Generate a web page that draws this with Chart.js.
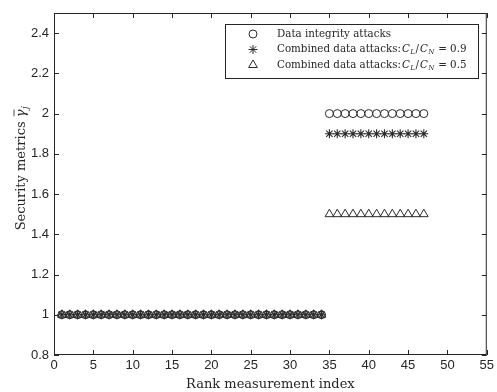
<!DOCTYPE html>
<html>
<head>
<meta charset="utf-8">
<script src="https://cdn.jsdelivr.net/npm/chart.js@4.4.1/dist/chart.umd.min.js"></script>
<style>
  html, body { margin: 0; padding: 0; background: #fff; }
  #wrap { width: 497px; height: 392px; position: relative; }
</style>
</head>
<body>
<div id="wrap"><canvas id="myChart" width="497" height="392"></canvas></div>
<script>
// Index des mesures (axe x)
const rankIndex = [1, 2, 3, 4, 5, 6, 7, 8, 9, 10, 11, 12, 13, 14, 15, 16, 17, 18, 19, 20,
  21, 22, 23, 24, 25, 26, 27, 28, 29, 30, 31, 32, 33, 34, 35, 36, 37, 38, 39, 40,
  41, 42, 43, 44, 45, 46, 47];

// Valeurs des trois séries
const integrityVals = [1, 1, 1, 1, 1, 1, 1, 1, 1, 1, 1, 1, 1, 1, 1, 1, 1, 1, 1, 1,
  1, 1, 1, 1, 1, 1, 1, 1, 1, 1, 1, 1, 1, 1, 2, 2, 2, 2, 2, 2,
  2, 2, 2, 2, 2, 2, 2];
const combined09Vals = [1, 1, 1, 1, 1, 1, 1, 1, 1, 1, 1, 1, 1, 1, 1, 1, 1, 1, 1, 1,
  1, 1, 1, 1, 1, 1, 1, 1, 1, 1, 1, 1, 1, 1, 1.9, 1.9, 1.9, 1.9, 1.9, 1.9,
  1.9, 1.9, 1.9, 1.9, 1.9, 1.9, 1.9];
const combined05Vals = [1, 1, 1, 1, 1, 1, 1, 1, 1, 1, 1, 1, 1, 1, 1, 1, 1, 1, 1, 1,
  1, 1, 1, 1, 1, 1, 1, 1, 1, 1, 1, 1, 1, 1, 1.5, 1.5, 1.5, 1.5, 1.5, 1.5,
  1.5, 1.5, 1.5, 1.5, 1.5, 1.5, 1.5];

// Graduations
const xTicks = [0, 5, 10, 15, 20, 25, 30, 35, 40, 45, 50, 55];
const yTicks = [0.8, 1, 1.2, 1.4, 1.6, 1.8, 2, 2.2, 2.4];

const seriesNames = ['Data integrity attacks', 'Combined data attacks:', 'Combined data attacks:'];
const ratioLabels = ['', '0.9', '0.5'];

const ink = '#262626';
const mark = '#2b2b2b';
const serif = '"DejaVu Serif", "Liberation Serif", serif';

function toPoints(vals) {
  return rankIndex.map((x, i) => ({ x: x, y: vals[i] }));
}

// Cadre + graduations vers l'intérieur (style MATLAB)
const boxPlugin = {
  id: 'boxPlugin',
  afterDraw(chart) {
    const c = chart.ctx, a = chart.chartArea;
    const xs = chart.scales.x, ys = chart.scales.y;
    c.save();
    c.strokeStyle = ink;
    c.lineWidth = 1;
    c.strokeRect(a.left + 0.5, a.top + 0.5, a.right - a.left - 1, a.bottom - a.top - 1);
    c.beginPath();
    xTicks.forEach(v => {
      const px = Math.round(xs.getPixelForValue(v)) + 0.5;
      c.moveTo(px, a.bottom); c.lineTo(px, a.bottom - 5);
      c.moveTo(px, a.top); c.lineTo(px, a.top + 5);
    });
    yTicks.forEach(v => {
      const py = Math.round(ys.getPixelForValue(v)) + 0.5;
      c.moveTo(a.left, py); c.lineTo(a.left + 5, py);
      c.moveTo(a.right, py); c.lineTo(a.right - 5, py);
    });
    c.stroke();

    // Titre axe y : Security metrics γ̄_j
    c.translate(22, 168);
    c.rotate(-Math.PI / 2);
    c.fillStyle = ink;
    c.textBaseline = 'middle';
    c.textAlign = 'left';
    const t1 = 'Security metrics ';
    c.font = '13px ' + serif;
    const w1 = c.measureText(t1).width;
    c.font = 'italic 13px ' + serif;
    const wg = c.measureText('γ').width;
    c.font = 'italic 9px ' + serif;
    const wj = c.measureText('j').width;
    const total = w1 + wg + wj + 1;
    let x0 = -total / 2;
    c.font = '13px ' + serif;
    c.fillText(t1, x0, 0);
    x0 += w1;
    c.font = 'italic 13px ' + serif;
    c.fillText('γ', x0, 0);
    c.beginPath();
    c.lineWidth = 0.8;
    c.moveTo(x0 + 1, -8); c.lineTo(x0 + wg, -8);
    c.stroke();
    c.font = 'italic 9px ' + serif;
    c.fillText('j', x0 + wg + 0.5, 4);
    c.restore();
  }
};

// Légende dessinée à l'intérieur de la zone de tracé
const legendPlugin = {
  id: 'boxLegend',
  afterDraw(chart) {
    const c = chart.ctx;
    const left = 225, top = 24, right = 478, bottom = 78;
    const rows = [34, 49.5, 65];
    const fs = 10.3;
    c.save();
    c.fillStyle = '#fff';
    c.fillRect(left, top, right - left, bottom - top);
    c.strokeStyle = ink;
    c.lineWidth = 1;
    c.strokeRect(left + 0.5, top + 0.5, right - left, bottom - top);
    chart.data.datasets.forEach((ds, i) => {
      const y = rows[i];
      c.strokeStyle = mark;
      c.fillStyle = 'rgba(0,0,0,0)';
      c.lineWidth = 1;
      Chart.helpers.drawPoint(c, {
        pointStyle: ds.pointStyle, radius: ds.pointRadius, borderWidth: 1
      }, 253, y);
      c.fillStyle = ink;
      c.textBaseline = 'middle';
      c.textAlign = 'left';
      c.font = fs + 'px ' + serif;
      let x = 277;
      c.fillText(seriesNames[i], x, y);
      if (ratioLabels[i]) {
        x += c.measureText(seriesNames[i]).width + 1;
        const parts = [
          ['C', 'italic ' + fs + 'px ' + serif, 0],
          ['L', 'italic 7px ' + serif, 3],
          ['/', fs + 'px ' + serif, 0],
          ['C', 'italic ' + fs + 'px ' + serif, 0],
          ['N', 'italic 7px ' + serif, 3],
          [' = ' + ratioLabels[i], fs + 'px ' + serif, 0]
        ];
        parts.forEach(p => {
          c.font = p[1];
          c.fillText(p[0], x, y + p[2]);
          x += c.measureText(p[0]).width + (p[0] === '/' ? 1 : 0.5);
        });
      }
    });
    c.restore();
  }
};

const ctx = document.getElementById('myChart').getContext('2d');
const myChart = new Chart(ctx, {
  type: 'scatter',
  data: {
    datasets: [{
      label: 'Data integrity attacks',
      data: toPoints(integrityVals),
      pointStyle: 'circle',
      pointRadius: 4,
      borderColor: mark,
      backgroundColor: 'rgba(0,0,0,0)',
      borderWidth: 1
    }, {
      label: 'Combined data attacks: C_L/C_N = 0.9',
      data: toPoints(combined09Vals),
      pointStyle: 'star',
      pointRadius: 4.5,
      borderColor: mark,
      backgroundColor: 'rgba(0,0,0,0)',
      borderWidth: 1.1
    }, {
      label: 'Combined data attacks: C_L/C_N = 0.5',
      data: toPoints(combined05Vals),
      pointStyle: 'triangle',
      pointRadius: 5,
      borderColor: mark,
      backgroundColor: 'rgba(0,0,0,0)',
      borderWidth: 1
    }]
  },
  options: {
    responsive: false,
    animation: false,
    layout: { padding: { top: 13, right: 9, left: 0, bottom: 0 } },
    plugins: {
      legend: { display: false },
      tooltip: { enabled: false }
    },
    scales: {
      x: {
        type: 'linear',
        min: 0,
        max: 55,
        grid: { display: false, drawTicks: false },
        border: { display: false },
        afterBuildTicks: axis => { axis.ticks = xTicks.map(v => ({ value: v })); },
        afterFit: axis => { axis.height = 37; },
        ticks: {
          color: ink,
          padding: 3,
          maxRotation: 0,
          font: { family: '"Liberation Sans", Arial, sans-serif', size: 13 }
        },
        title: {
          display: true,
          text: 'Rank measurement index',
          color: ink,
          padding: { top: 0, bottom: 0 },
          font: { family: serif, size: 13 }
        }
      },
      y: {
        type: 'linear',
        min: 0.8,
        max: 2.5,
        grid: { display: false, drawTicks: false },
        border: { display: false },
        afterBuildTicks: axis => { axis.ticks = yTicks.map(v => ({ value: v })); },
        afterFit: axis => { axis.width = 54; },
        ticks: {
          color: ink,
          padding: 5,
          font: { family: '"Liberation Sans", Arial, sans-serif', size: 13 },
          callback: v => String(Math.round(v * 10) / 10)
        }
      }
    }
  },
  plugins: [boxPlugin, legendPlugin]
});
</script>
</body>
</html>
